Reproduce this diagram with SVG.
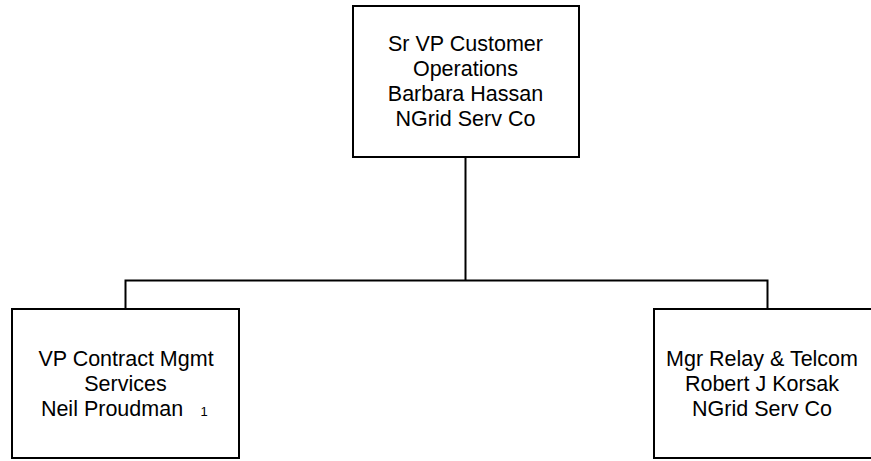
<svg xmlns="http://www.w3.org/2000/svg" width="871" height="461" viewBox="0 0 871 461">
<style>
.box{fill:#fff;stroke:#000;stroke-width:2}
.conn{fill:none;stroke:#000;stroke-width:2}
text{font-family:"Liberation Sans",Arial,sans-serif;font-size:21.5px;fill:#000;text-anchor:middle}
.sm{font-size:13px}
</style>
<rect width="871" height="461" fill="#fff"/>
<g id="connectors">
<path class="conn" d="M465.5 157V280.5M125.5 309V280.5H767.5V309"/>
</g>
<g id="node-barbara">
<rect class="box" x="353" y="6" width="226" height="151"/>
<text x="465.5" y="50.5">Sr VP Customer</text>
<text x="465.5" y="75.5">Operations</text>
<text x="465.5" y="100.5">Barbara Hassan</text>
<text x="465.5" y="125.5">NGrid Serv Co</text>
</g>
<g id="node-neil">
<rect class="box" x="12" y="309" width="227" height="149"/>
<text x="126" y="366">VP Contract Mgmt</text>
<text x="125.5" y="391">Services</text>
<text x="112" y="416">Neil Proudman</text>
<text class="sm" x="204" y="416">1</text>
</g>
<g id="node-robert">
<rect class="box" x="654" y="309" width="227" height="149"/>
<text x="762" y="366">Mgr Relay &amp; Telcom</text>
<text x="762" y="391">Robert J Korsak</text>
<text x="762" y="416">NGrid Serv Co</text>
</g>
</svg>
